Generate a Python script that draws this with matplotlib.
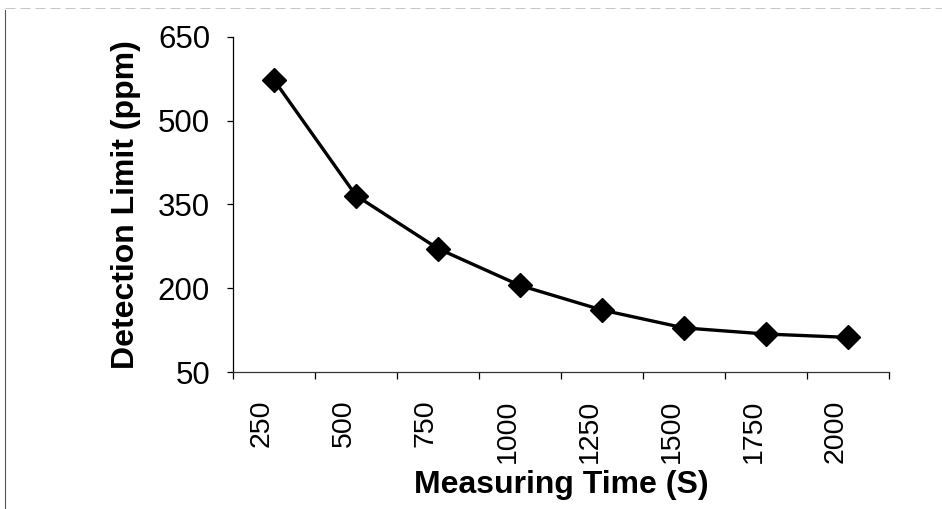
import matplotlib
matplotlib.use("Agg")
import matplotlib.pyplot as plt
import matplotlib.transforms as mtransforms
from matplotlib.lines import Line2D
import numpy as np

plt.rcParams['font.family'] = ['Liberation Sans', 'DejaVu Sans']

categories = ["250", "500", "750", "1000", "1250", "1500", "1750", "2000"]
detection_limit = [573, 366, 271, 205, 161, 129, 118, 112]
y_ticks = [50, 200, 350, 500, 650]

fig = plt.figure(figsize=(9.42, 5.09), dpi=100)
ax = fig.add_axes([233/942, 1-372/509, (889-233)/942, (372-37)/509])

x = np.arange(len(categories))
ax.plot(x, detection_limit, color='black', lw=2.4, marker='D', markersize=12.5,
        markerfacecolor='black', markeredgecolor='black', zorder=3)

ax.set_xlim(-0.5, len(categories) - 0.5)
ax.set_ylim(50, 650)
ax.set_yticks(y_ticks)
ax.set_yticklabels([str(v) for v in y_ticks])

# category boundaries as tick marks, labels at centers
ax.set_xticks(np.arange(len(categories) + 1) - 0.5)
ax.set_xticklabels([])
ax.set_xticks(x, minor=True)
ax.set_xticklabels(categories, minor=True, rotation=90, fontsize=20.5)
ax.tick_params(axis='x', which='major', length=5, width=0.9, direction='out')
ax.tick_params(axis='x', which='minor', length=0, pad=20)
ax.tick_params(axis='y', length=4.5, width=0.9, direction='out', labelsize=22.5, pad=12)

offset = mtransforms.ScaledTranslation(-12/100, 0, fig.dpi_scale_trans)
for lab in ax.get_xticklabels(minor=True):
    lab.set_transform(lab.get_transform() + offset)

for s in ['top', 'right']:
    ax.spines[s].set_visible(False)
ax.spines['left'].set_linewidth(0.9)
ax.spines['bottom'].set_linewidth(0.9)
ax.spines['bottom'].set_color('#333333')

ax.set_ylabel('Detection Limit (ppm)', fontsize=23, fontweight='bold', labelpad=12)
ax.set_xlabel('Measuring Time (S)', fontsize=23, fontweight='bold', labelpad=5)

# scanned frame edges
fig.add_artist(Line2D([5/942, 5/942], [0, 1-10/509], transform=fig.transFigure,
                      color='#555555', lw=0.8))
fig.add_artist(Line2D([5/942, 1], [1-8/509, 1-8/509], transform=fig.transFigure,
                      color='#bbbbbb', lw=0.6, ls=(0, (12, 6))))

fig.savefig('out.png', dpi=100)
